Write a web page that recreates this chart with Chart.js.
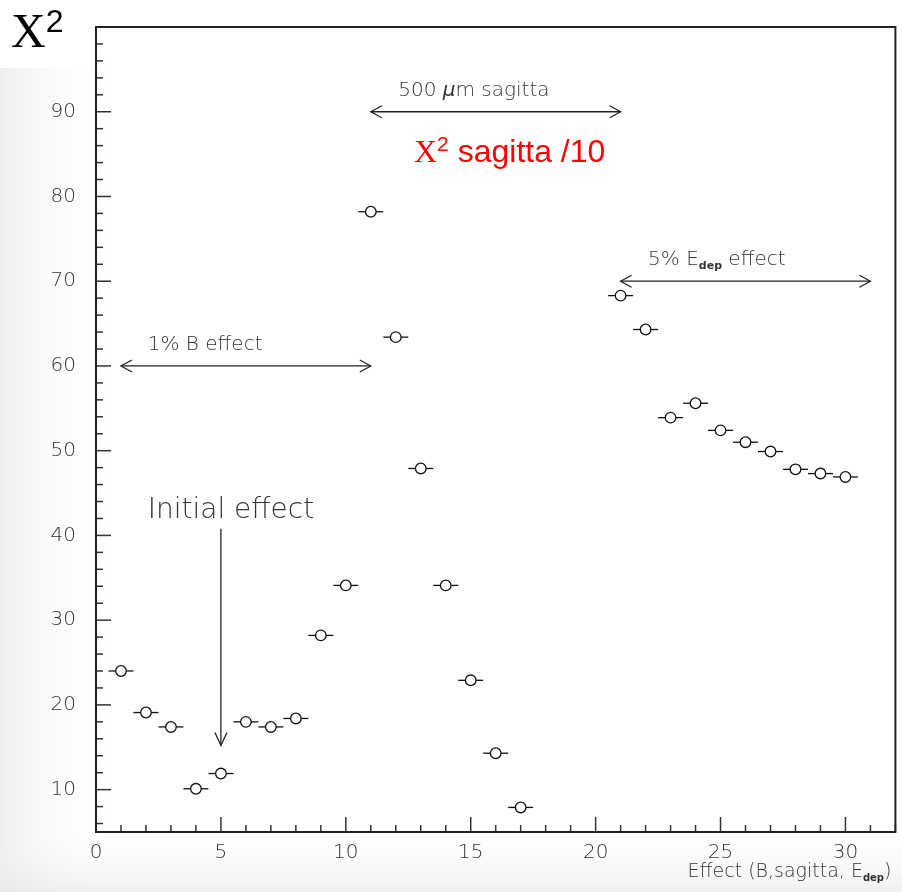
<!DOCTYPE html>
<html><head><meta charset="utf-8">
<script src="https://cdn.jsdelivr.net/npm/chart.js@4.4.0/dist/chart.umd.min.js"></script>
<style>html,body{margin:0;padding:0;background:#fff;}canvas{display:block}</style>
</head><body>
<canvas id="c" width="902" height="892"></canvas>
<script>
// ---- data ----
const effects = [1,2,3,4,5,6,7,8,9,10,11,12,13,14,15,16,17,21,22,23,24,25,26,27,28,29,30];
const chi2    = [24.0,19.1,17.4,10.1,11.9,18.0,17.4,18.4,28.2,34.1,78.2,63.4,47.9,34.1,22.9,14.3,7.9,
                 68.3,64.3,53.9,55.6,52.4,51.0,49.9,47.8,47.3,46.9];
const xErrHalf = 0.5;
const xTickLabels = [0,5,10,15,20,25,30];
const yTickLabels = [10,20,30,40,50,60,70,80,90];

const FONT = "'DejaVu Sans',sans-serif";
const W8 = 200;
const INK = '#333';

function runs(ctx, x, y, parts, align) {
  let total = 0;
  parts.forEach(p => { ctx.font = p.font; total += ctx.measureText(p.t).width; });
  if (align === 'right') x -= total;
  parts.forEach(p => {
    ctx.font = p.font;
    ctx.fillText(p.t, x, y + (p.dy || 0));
    x += ctx.measureText(p.t).width;
  });
}
function arrowHead(ctx, x, y, dir) {
  ctx.beginPath();
  if (dir === 'l') { ctx.moveTo(x + 11, y - 6); ctx.lineTo(x, y); ctx.lineTo(x + 11, y + 6); }
  if (dir === 'r') { ctx.moveTo(x - 11, y - 6); ctx.lineTo(x, y); ctx.lineTo(x - 11, y + 6); }
  if (dir === 'd') { ctx.moveTo(x - 6, y - 13); ctx.lineTo(x, y); ctx.lineTo(x + 6, y - 13); }
  ctx.stroke();
}
function hArrow(ctx, xs, x0, x1, yv, ys) {
  const a = xs.getPixelForValue(x0), b = xs.getPixelForValue(x1), y = ys.getPixelForValue(yv);
  ctx.beginPath(); ctx.moveTo(a, y); ctx.lineTo(b, y); ctx.stroke();
  arrowHead(ctx, a, y, 'l'); arrowHead(ctx, b, y, 'r');
}

const bgPlugin = {
  id: 'bg',
  beforeDraw(chart) {
    const ctx = chart.ctx, W = chart.width, H = chart.height;
    ctx.save();
    ctx.fillStyle = '#ffffff'; ctx.fillRect(0, 0, W, H);
    const g1 = ctx.createLinearGradient(0, 0, 110, 0);
    g1.addColorStop(0, 'rgba(225,225,225,0.55)'); g1.addColorStop(1, 'rgba(255,255,255,0)');
    ctx.fillStyle = g1; ctx.fillRect(0, 60, 110, H - 60);
    const g2 = ctx.createLinearGradient(0, H, 0, H - 70);
    g2.addColorStop(0, 'rgba(228,228,228,0.55)'); g2.addColorStop(1, 'rgba(255,255,255,0)');
    ctx.fillStyle = g2; ctx.fillRect(0, H - 70, W, 70);
    ctx.restore();
  }
};

const errPlugin = {
  id: 'errs',
  beforeDatasetsDraw(chart) {
    const ctx = chart.ctx, xs = chart.scales.x, ys = chart.scales.y;
    ctx.save();
    ctx.strokeStyle = '#111'; ctx.lineWidth = 1.3;
    effects.forEach((e, i) => {
      const y = ys.getPixelForValue(chi2[i]);
      ctx.beginPath();
      ctx.moveTo(xs.getPixelForValue(e - xErrHalf), y);
      ctx.lineTo(xs.getPixelForValue(e + xErrHalf), y);
      ctx.stroke();
    });
    ctx.restore();
  }
};

const framePlugin = {
  id: 'frame',
  afterDraw(chart) {
    const ctx = chart.ctx, a = chart.chartArea, xs = chart.scales.x, ys = chart.scales.y;
    ctx.save();
    ctx.strokeStyle = INK; ctx.lineWidth = 1.5;
    xs.ticks.forEach(t => {
      const px = xs.getPixelForValue(t.value);
      const len = xTickLabels.includes(t.value) ? 15 : 7;
      ctx.beginPath(); ctx.moveTo(px, a.bottom); ctx.lineTo(px, a.bottom - len); ctx.stroke();
    });
    ys.ticks.forEach(t => {
      const py = ys.getPixelForValue(t.value);
      const len = yTickLabels.includes(t.value) ? 15 : 7;
      ctx.beginPath(); ctx.moveTo(a.left, py); ctx.lineTo(a.left + len, py); ctx.stroke();
    });
    ctx.strokeStyle = '#222'; ctx.lineWidth = 2;
    ctx.strokeRect(a.left, a.top, a.right - a.left, a.bottom - a.top);

    ctx.fillStyle = INK; ctx.strokeStyle = '#222'; ctx.lineWidth = 1.3;
    ctx.textBaseline = 'alphabetic'; ctx.textAlign = 'left';
    const f = s => `${W8} ${s}px ${FONT}`;
    const sub = s => `bold ${s}px ${FONT}`;
    hArrow(ctx, xs, 11, 21, 90, ys);
    runs(ctx, xs.getPixelForValue(12.1), ys.getPixelForValue(91.9), [
      {t: '500 ', font: f(20)}, {t: 'µ', font: `italic ${W8} 20px ${FONT}`}, {t: 'm sagitta', font: f(20)}]);
    hArrow(ctx, xs, 1, 11, 60, ys);
    runs(ctx, xs.getPixelForValue(2.07), ys.getPixelForValue(61.9), [{t: '1% B effect', font: f(20)}]);
    hArrow(ctx, xs, 21, 31, 70, ys);
    runs(ctx, xs.getPixelForValue(22.1), ys.getPixelForValue(71.9), [
      {t: '5% E', font: f(20)}, {t: 'dep', font: sub(11), dy: 4}, {t: ' effect', font: f(20)}]);
    runs(ctx, xs.getPixelForValue(2.07), ys.getPixelForValue(42.0), [{t: 'Initial effect', font: f(28)}]);
    const ax = xs.getPixelForValue(5), ay0 = ys.getPixelForValue(40.8), ay1 = ys.getPixelForValue(15.2);
    ctx.beginPath(); ctx.moveTo(ax, ay0); ctx.lineTo(ax, ay1); ctx.stroke();
    arrowHead(ctx, ax, ay1, 'd');
    runs(ctx, a.right - 4, 877, [
      {t: 'Effect (B,sagitta, E', font: f(19)}, {t: 'dep', font: sub(10), dy: 4}, {t: ')', font: f(19)}], 'right');

    ctx.fillStyle = '#fff'; ctx.fillRect(0, 0, 95, 68);
    ctx.fillStyle = '#000';
    runs(ctx, 11, 47, [{t: 'X', font: "48px 'Liberation Serif', serif"}, {t: '2', font: "32px 'Liberation Sans', sans-serif", dy: -15}]);
    ctx.fillStyle = '#fff'; ctx.fillRect(396, 121, 264, 57);
    ctx.fillStyle = '#ff0000';
    runs(ctx, 414, 162, [{t: 'X', font: "32px 'Liberation Serif', serif"}, {t: '2', font: "21px 'Liberation Sans', sans-serif", dy: -11},
      {t: ' sagitta /10', font: "32px 'Liberation Sans', sans-serif"}]);
    ctx.restore();
  }
};

new Chart(document.getElementById('c'), {
  type: 'scatter',
  data: {
    datasets: [{
      data: effects.map((e, i) => ({x: e, y: chi2[i]})),
      pointStyle: 'circle', pointRadius: 5.3, pointHoverRadius: 5.3,
      pointBackgroundColor: '#fff', pointBorderColor: '#111', pointBorderWidth: 1.3
    }]
  },
  plugins: [bgPlugin, errPlugin, framePlugin],
  options: {
    responsive: false, animation: false,
    layout: {padding: {top: 27, right: -6, left: 0, bottom: 0}},
    plugins: {legend: {display: false}, tooltip: {enabled: false}},
    scales: {
      x: {
        type: 'linear', min: 0, max: 32,
        afterBuildTicks: s => { const t = []; for (let v = 0; v <= 32; v++) t.push({value: v}); s.ticks = t; },
        afterFit: s => { s.height = 60; s.paddingLeft = 0; s.paddingRight = 0; },
        grid: {display: false, drawTicks: false},
        border: {display: false},
        ticks: {autoSkip: false, maxRotation: 0, padding: 9, color: INK,
          font: {family: FONT, size: 20, weight: W8},
          callback: v => xTickLabels.includes(v) ? String(v) : ''}
      },
      y: {
        type: 'linear', min: 5, max: 100,
        afterBuildTicks: s => { const t = []; for (let v = 6; v <= 100; v += 2) t.push({value: v}); s.ticks = t; },
        afterFit: s => { s.width = 96; s.paddingTop = 0; s.paddingBottom = 0; s.paddingLeft = 0; s.paddingRight = 0; },
        grid: {display: false, drawTicks: false},
        border: {display: false},
        ticks: {autoSkip: false, padding: 20, color: INK,
          font: {family: FONT, size: 20, weight: W8},
          callback: v => yTickLabels.includes(v) ? String(v) : ''}
      }
    }
  }
});
</script>
</body></html>
